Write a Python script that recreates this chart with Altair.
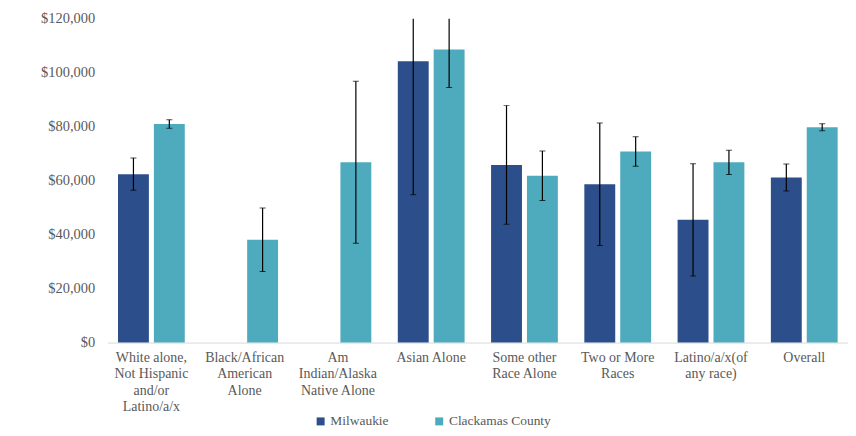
import altair as alt
import pandas as pd

categories = [
    "White alone,|Not Hispanic|and/or|Latino/a/x",
    "Black/African|American|Alone",
    "Am|Indian/Alaska|Native Alone",
    "Asian Alone",
    "Some other|Race Alone",
    "Two or More|Races",
    "Latino/a/x(of|any race)",
    "Overall",
]
series = ["Milwaukie", "Clackamas County"]
milwaukie_values = [62400, None, None, 104200, 65800, 58700, 45500, 61200]
milwaukie_moe = [6000, None, None, 49400, 22000, 22700, 20800, 5000]
clackamas_values = [81000, 38100, 66800, 108600, 61800, 70800, 66800, 79800]
clackamas_moe = [1600, 11800, 30000, 14100, 9200, 5500, 4500, 1300]
colors = ["#2C4F8C", "#4EABBE"]
y_ticks = [0, 20000, 40000, 60000, 80000, 100000, 120000]

rows = []
for s, vals, moes in [(series[0], milwaukie_values, milwaukie_moe),
                      (series[1], clackamas_values, clackamas_moe)]:
    for c, v, m in zip(categories, vals, moes):
        if v is None:
            continue
        rows.append(dict(category=c, series=s, value=v, lo=v - m, hi=v + m))
df = pd.DataFrame(rows)

FONT = "Liberation Serif"
GRAY = "#595959"

x = alt.X(
    "category:N", sort=categories,
    scale=alt.Scale(paddingInner=0.284, paddingOuter=0.111),
    axis=alt.Axis(title=None, labelAngle=0, labelExpr="split(datum.label, '|')",
                  labelFont=FONT, labelFontSize=14, labelColor=GRAY,
                  labelLineHeight=16.5, labelPadding=8, ticks=False,
                  domainColor="#D9D9D9", domainWidth=1),
)
xo = alt.XOffset("series:N", sort=series,
                 scale=alt.Scale(domain=series, paddingInner=0.139, paddingOuter=0))
yscale = alt.Scale(domain=[0, 120000], nice=False)

base = alt.Chart(df)

bars = base.mark_bar().encode(
    x=x, xOffset=xo,
    y=alt.Y("value:Q", scale=yscale,
            axis=alt.Axis(title=None, values=y_ticks, format="$,.0f", grid=False,
                          domain=False, ticks=False, labelPadding=13,
                          labelFont=FONT, labelFontSize=14.5, labelColor=GRAY)),
    color=alt.Color("series:N", sort=series,
                    scale=alt.Scale(domain=series, range=colors),
                    legend=alt.Legend(title=None, orient="none", legendX=207, legendY=397,
                                      direction="horizontal", symbolType="square",
                                      symbolSize=64, symbolStrokeWidth=0, labelOffset=3,
                                      labelFont=FONT, labelFontSize=13.5, labelColor=GRAY,
                                      columnPadding=44)),
)

rules = base.mark_rule(color="black", strokeWidth=1.2, clip=True).encode(
    x=x, xOffset=xo, y=alt.Y("lo:Q", scale=yscale), y2="hi:Q")
caps_hi = base.mark_tick(color="black", thickness=1, size=6, orient="horizontal", clip=True).encode(
    x=x, xOffset=xo, y=alt.Y("hi:Q", scale=yscale))
caps_lo = base.mark_tick(color="black", thickness=1, size=6, orient="horizontal", clip=True).encode(
    x=x, xOffset=xo, y=alt.Y("lo:Q", scale=yscale))

chart = alt.layer(bars, rules, caps_hi, caps_lo).properties(
    width=743, height=325,
    autosize=alt.AutoSizeParams(type="none"),
    padding={"left": 100, "top": 10, "right": 0, "bottom": 93},
).configure(font=FONT).configure_view(stroke=None).configure_legend(labelFont=FONT)

chart.save("out.html", embed_options={"renderer": "svg", "actions": False})
